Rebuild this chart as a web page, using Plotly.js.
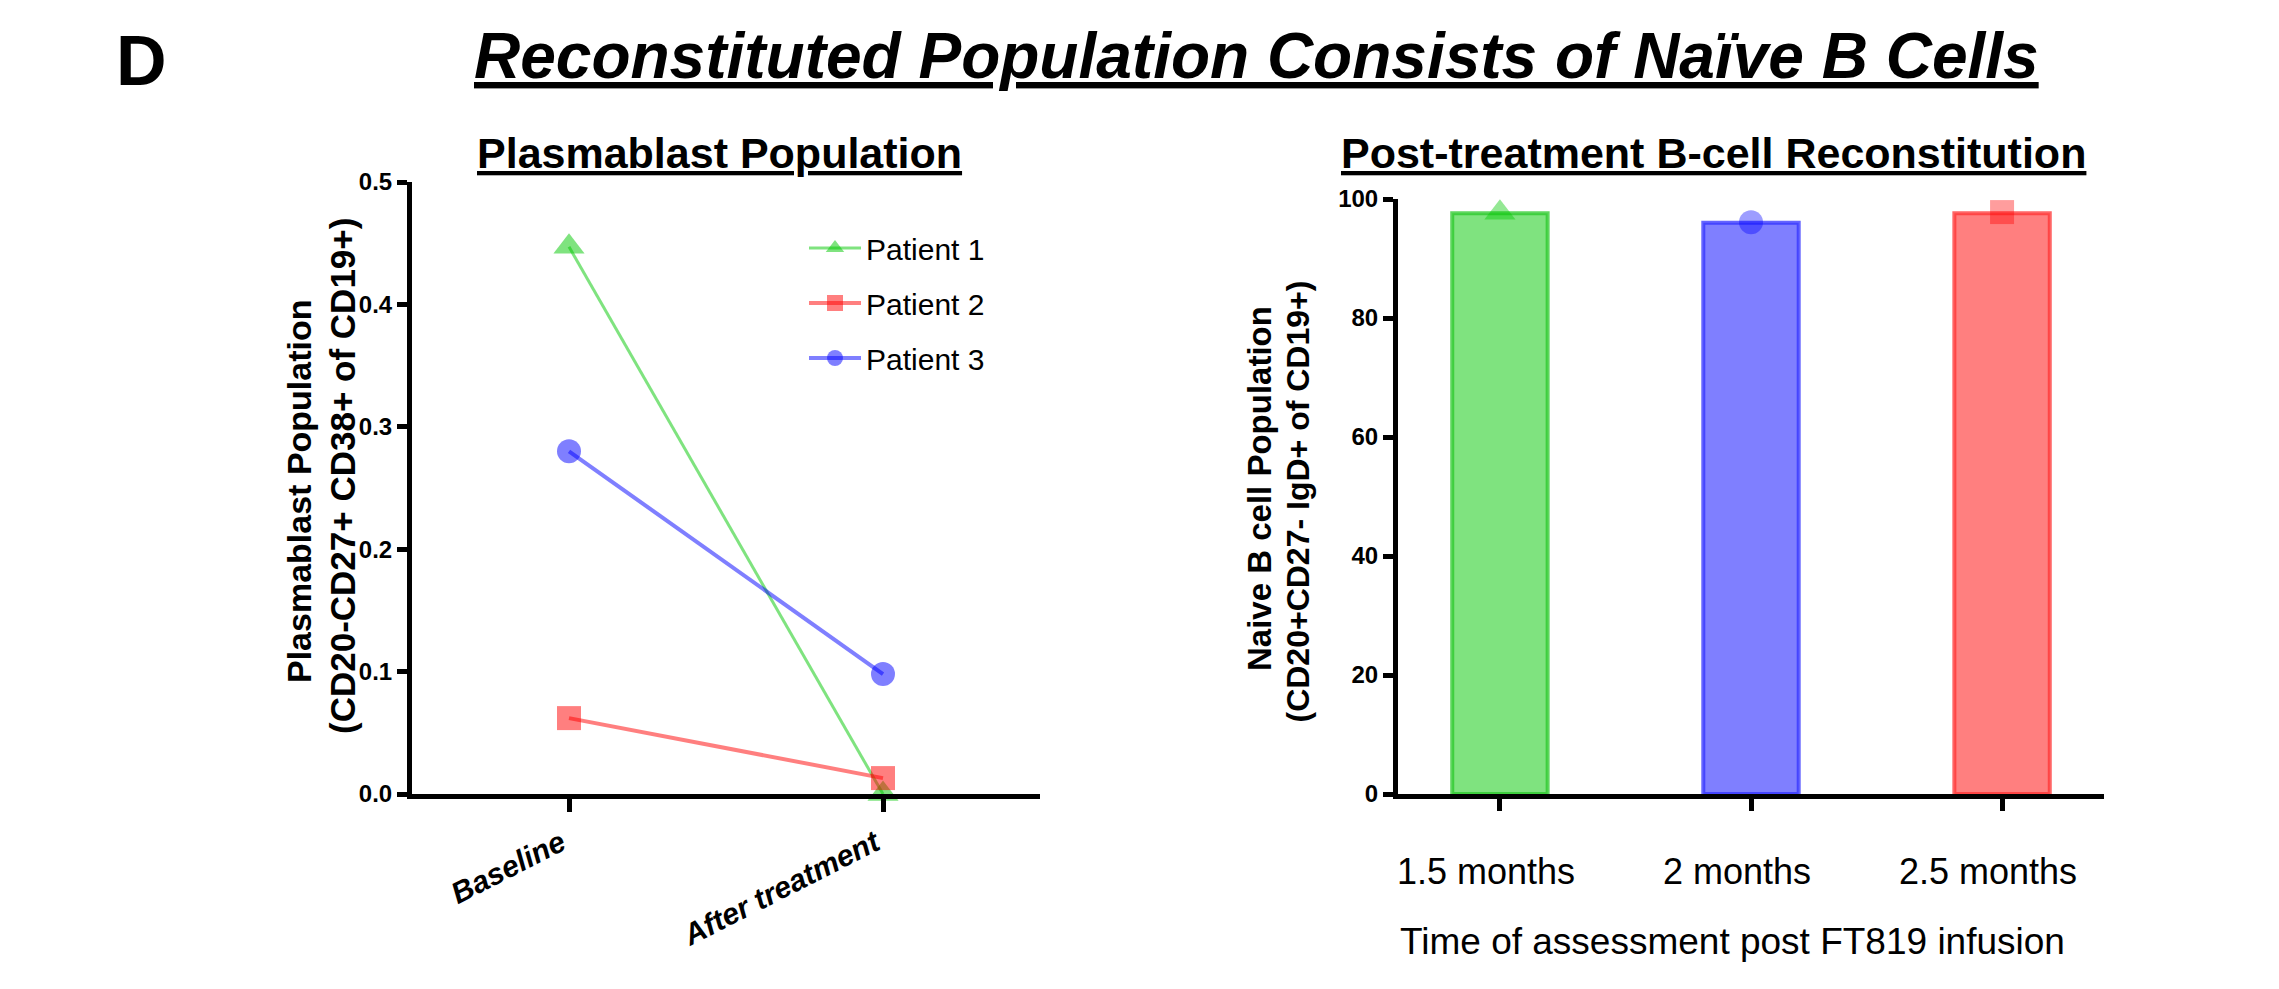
<!DOCTYPE html>
<html><head><meta charset="utf-8">
<script src="https://cdn.plot.ly/plotly-3.0.1.min.js"></script>
<style>html,body{margin:0;padding:0;background:#fff;} #chart{width:2279px;height:989px;}</style>
</head><body><div id="chart"></div>
<script>
// ---- data ----
const timepoints = ['Baseline', 'After treatment'];
const patientNames = ['Patient 1', 'Patient 2', 'Patient 3'];
const patient1 = [0.447, 0.0];
const patient2 = [0.062, 0.013];
const patient3 = [0.280, 0.098];
const months = ['1.5 months', '2 months', '2.5 months'];
const naivePct = [97.6, 96.0, 97.6];
const naivePoint = [97.7, 96.1, 97.8];
const leftYTicks = [0, 0.1, 0.2, 0.3, 0.4, 0.5];
const leftYTickText = ['0.0', '0.1', '0.2', '0.3', '0.4', '0.5'];
const rightYTicks = [0, 20, 40, 60, 80, 100];

// ---- styles ----
const FONT = 'Liberation Sans, Arial, Helvetica, sans-serif';
const W = 2279, H = 989;
const px = v => v / W;
const py = v => (H - v) / H;
const green = 'rgba(0,200,0,0.5)', red = 'rgba(255,0,0,0.5)', blue = 'rgba(0,0,255,0.5)';
const greenDark = 'rgba(40,200,40,0.75)', redDark = 'rgba(255,50,50,0.75)', blueDark = 'rgba(50,50,255,0.75)';
const UL = 'text-decoration:underline;text-decoration-thickness:';

const series = [patient1, patient2, patient3];
const symbols = ['triangle-up', 'square', 'circle'];
const colors = [green, red, blue];
const lineWidths = [3, 4, 4];
const sizes = [27, 24, 24];

const traces = series.map((ys, i) => ({
  type: 'scatter', mode: 'lines+markers',
  x: timepoints, y: ys, name: patientNames[i],
  xaxis: 'x', yaxis: 'y', cliponaxis: false,
  line: {color: colors[i], width: lineWidths[i]},
  marker: {symbol: symbols[i], size: sizes[i], color: colors[i], line: {width: 0}},
  legendgroup: 'g' + i
}));

traces.push({
  type: 'bar', x: months, y: naivePct, xaxis: 'x2', yaxis: 'y2', width: 0.38,
  marker: {color: [green, blue, red], line: {color: [greenDark, blueDark, redDark], width: 4}},
  showlegend: false, hoverinfo: 'x+y'
});
traces.push({
  type: 'scatter', mode: 'markers', x: months, y: naivePoint, xaxis: 'x2', yaxis: 'y2',
  cliponaxis: false, showlegend: false,
  marker: {symbol: ['triangle-up', 'circle', 'square'], size: [27, 24, 24],
           color: ['rgba(0,200,0,0.6)', 'rgba(0,0,255,0.55)', 'rgba(255,0,0,0.55)'], line: {width: 0}}
});

const axisCommon = {
  showline: true, linecolor: '#000', linewidth: 5, ticks: 'outside', tickcolor: '#000',
  tickwidth: 5, showgrid: false, zeroline: false, fixedrange: true
};

const layout = {
  width: W, height: H, margin: {l: 0, r: 0, t: 0, b: 0},
  paper_bgcolor: '#fff', plot_bgcolor: 'rgba(0,0,0,0)',
  font: {family: FONT, color: '#000'},
  showlegend: true,
  legend: {
    x: px(804), y: py(222), xanchor: 'left', yanchor: 'top',
    font: {family: FONT, size: 30, color: '#000'}, bgcolor: 'rgba(0,0,0,0)',
    tracegroupgap: 13, traceorder: 'grouped', itemsizing: 'trace', itemwidth: 52
  },
  xaxis: Object.assign({}, axisCommon, {
    domain: [px(412), px(1040)], anchor: 'y', type: 'category', range: [-0.5, 1.5],
    ticklen: 13, tickangle: -27, ticklabelstandoff: 2, ticklabelshift: -8,
    tickfont: {family: FONT, size: 30, weight: 'bold', style: 'italic', color: '#000'}
  }),
  yaxis: Object.assign({}, axisCommon, {
    domain: [py(794), py(182)], anchor: 'x', range: [0, 0.5],
    tickvals: leftYTicks, ticktext: leftYTickText, ticklen: 10,
    tickfont: {family: FONT, size: 24, weight: 'bold', color: '#000'}
  }),
  xaxis2: Object.assign({}, axisCommon, {
    domain: [px(1398), px(2104)], anchor: 'y2', type: 'category', range: [-0.406, 2.406],
    ticklen: 12, ticklabelstandoff: 30, ticklabelshift: -14,
    tickfont: {family: FONT, size: 36, color: '#000'}
  }),
  yaxis2: Object.assign({}, axisCommon, {
    domain: [py(794), py(199)], anchor: 'x2', range: [0, 100],
    tickvals: rightYTicks, ticklen: 10,
    tickfont: {family: FONT, size: 24, weight: 'bold', color: '#000'}
  }),
  annotations: [
    {text: 'D', x: px(114), y: py(61.5), xref: 'paper', yref: 'paper', xanchor: 'left', yanchor: 'middle',
     showarrow: false, font: {family: FONT, size: 70, weight: 'bold', color: '#000'}},
    {text: '<span style="' + UL + '6px">Reconstituted Population Consists of Naïve B Cells</span>', x: px(1256), y: py(56),
     xref: 'paper', yref: 'paper', xanchor: 'center', yanchor: 'middle', showarrow: false,
     font: {family: FONT, size: 64, weight: 'bold', style: 'italic', color: '#000'}},
    {text: '<span style="' + UL + '4px">Plasmablast Population</span>', x: px(719.5), y: py(153), xref: 'paper', yref: 'paper',
     xanchor: 'center', yanchor: 'middle', showarrow: false,
     font: {family: FONT, size: 43, weight: 'bold', color: '#000'}},
    {text: '<span style="' + UL + '4px">Post-treatment B-cell Reconstitution</span>', x: px(1713.5), y: py(153), xref: 'paper', yref: 'paper',
     xanchor: 'center', yanchor: 'middle', showarrow: false,
     font: {family: FONT, size: 43, weight: 'bold', color: '#000'}},
    {text: 'Plasmablast Population', x: px(298.5), y: py(490.5), xref: 'paper', yref: 'paper', textangle: -90,
     xanchor: 'center', yanchor: 'middle', showarrow: false,
     font: {family: FONT, size: 34, weight: 'bold', color: '#000'}},
    {text: '(CD20-CD27+ CD38+ of CD19+)', x: px(342), y: py(476), xref: 'paper', yref: 'paper', textangle: -90,
     xanchor: 'center', yanchor: 'middle', showarrow: false,
     font: {family: FONT, size: 35, weight: 'bold', color: '#000'}},
    {text: 'Naive B cell Population', x: px(1259), y: py(489), xref: 'paper', yref: 'paper', textangle: -90,
     xanchor: 'center', yanchor: 'middle', showarrow: false,
     font: {family: FONT, size: 33, weight: 'bold', color: '#000'}},
    {text: '(CD20+CD27- IgD+ of CD19+)', x: px(1298), y: py(501.5), xref: 'paper', yref: 'paper', textangle: -90,
     xanchor: 'center', yanchor: 'middle', showarrow: false,
     font: {family: FONT, size: 32, weight: 'bold', color: '#000'}},
    {text: 'Time of assessment post FT819 infusion', x: px(1732), y: py(941.5), xref: 'paper', yref: 'paper',
     xanchor: 'center', yanchor: 'middle', showarrow: false,
     font: {family: FONT, size: 37, color: '#000'}}
  ]
};

Plotly.newPlot('chart', traces, layout, {displayModeBar: false, staticPlot: true});
</script>
</body></html>
